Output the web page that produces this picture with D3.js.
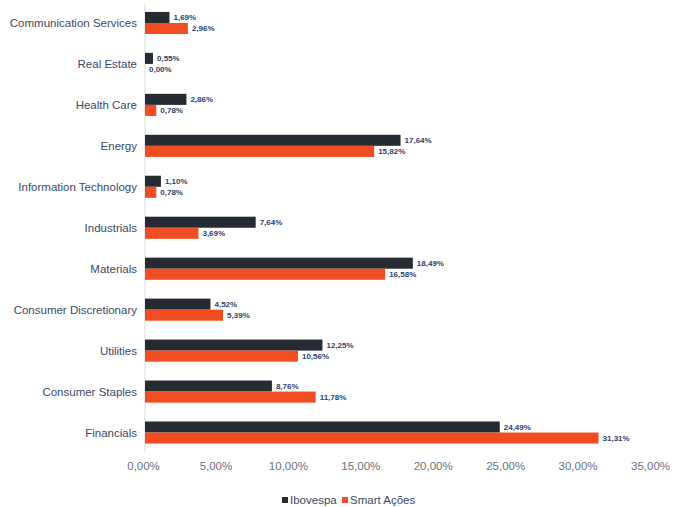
<!DOCTYPE html>
<html>
<head>
<meta charset="utf-8">
<script src="https://cdn.jsdelivr.net/npm/d3@7"></script>
<style>
  html, body { margin: 0; padding: 0; background: #ffffff; }
  svg { display: block; }
  text { font-family: "Liberation Sans Narrow", "Arial Narrow", "Liberation Sans", sans-serif; }
</style>
</head>
<body>
<svg id="chart" width="682" height="507"></svg>
<script>
// Sector weights (%) for the index and the fund
const categories = [
  "Communication Services", "Real Estate", "Health Care", "Energy",
  "Information Technology", "Industrials", "Materials",
  "Consumer Discretionary", "Utilities", "Consumer Staples", "Financials"
];
const seriesNames = ["Ibovespa", "Smart Ações"];
const ibovespa = [1.69, 0.55, 2.86, 17.64, 1.10, 7.64, 18.49, 4.52, 12.25, 8.76, 24.49];
const smartAcoes = [2.96, 0.00, 0.78, 15.82, 0.78, 3.69, 16.58, 5.39, 10.56, 11.78, 31.31];
const xTicks = [0, 5, 10, 15, 20, 25, 30, 35];

const colors = ["#262a33", "#f04d22"];
const fmt = v => v.toFixed(2).replace(".", ",") + "%";

const svg = d3.select("#chart");
const x = d3.scaleLinear().domain([0, 35]).range([145, 652]);
const y = d3.scaleBand().domain(categories).range([2.5, 453]).paddingInner(0.46).paddingOuter(0.23);
const sub = d3.scaleBand().domain(seriesNames).range([0, y.bandwidth()]).padding(0);

// vertical baseline
svg.append("line")
  .attr("x1", x(0)).attr("x2", x(0))
  .attr("y1", 4).attr("y2", 452)
  .attr("stroke", "#d9d9d9").attr("stroke-width", 1);

const rows = categories.map((c, i) => ({ cat: c, vals: [ibovespa[i], smartAcoes[i]] }));

const g = svg.append("g").selectAll("g").data(rows).join("g")
  .attr("transform", d => `translate(0,${y(d.cat)})`);

g.selectAll("rect").data(d => d.vals.map((v, k) => ({ v, k })))
  .join("rect")
  .attr("x", x(0))
  .attr("y", d => sub(seriesNames[d.k]))
  .attr("width", d => Math.max(0, x(d.v) - x(0)))
  .attr("height", sub.bandwidth())
  .attr("fill", d => colors[d.k]);

g.selectAll("text.val").data(d => d.vals.map((v, k) => ({ v, k })))
  .join("text")
  .attr("class", "val")
  .attr("x", d => x(d.v) + 4)
  .attr("y", d => sub(seriesNames[d.k]) + sub.bandwidth() / 2)
  .attr("dy", "0.35em")
  .attr("font-size", 8)
  .attr("font-weight", "bold")
  .attr("fill", "#2c4170")
  .text(d => fmt(d.v));

// category labels
svg.append("g").selectAll("text").data(categories).join("text")
  .attr("x", 137)
  .attr("y", d => y(d) + y.bandwidth() / 2)
  .attr("dy", "0.35em")
  .attr("text-anchor", "end")
  .attr("font-size", 11.5)
  .attr("fill", "#3a4868")
  .text(d => d);

// x axis tick labels
const xAxis = d3.axisBottom(x).tickValues(xTicks).tickSize(0).tickFormat(d => fmt(d));
const ax = svg.append("g").attr("transform", "translate(-2,459)").call(xAxis);
ax.select(".domain").remove();
ax.selectAll("text").attr("font-size", 11.5).attr("fill", "#6a7184")
  .style("font-family", "\"Liberation Sans Narrow\", \"Arial Narrow\", sans-serif");

// legend
const legend = svg.append("g").attr("transform", "translate(282,500)");
const items = [{ name: seriesNames[0], x: 0 }, { name: seriesNames[1], x: 60 }];
items.forEach((it, k) => {
  legend.append("rect").attr("x", it.x).attr("y", -3).attr("width", 6).attr("height", 6).attr("fill", colors[k]);
  legend.append("text").attr("x", it.x + 8).attr("y", 0).attr("dy", "0.35em")
    .attr("font-size", 11.5).attr("fill", "#3a4868").text(it.name);
});
</script>
</body>
</html>
